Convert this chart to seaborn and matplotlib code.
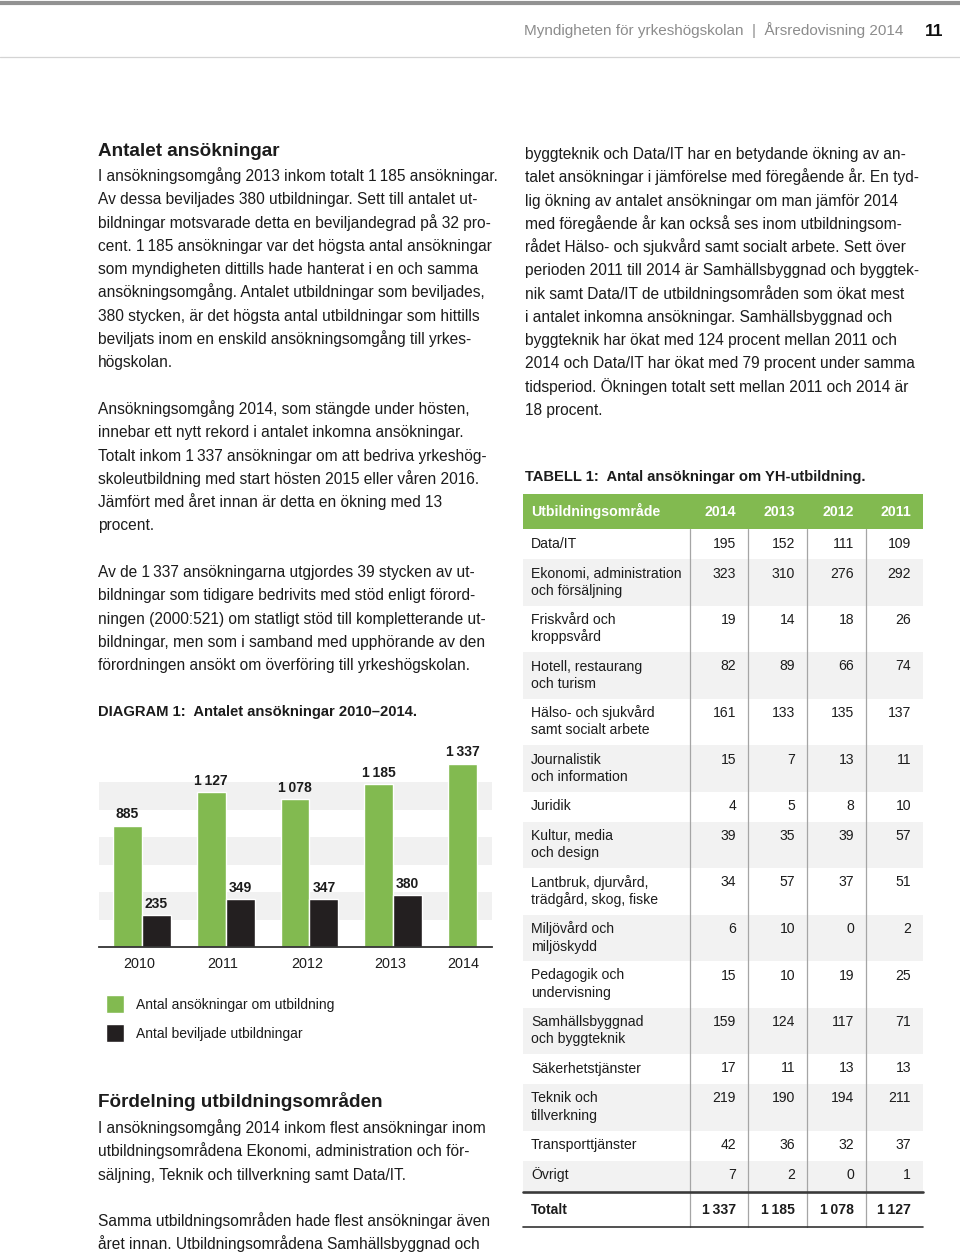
import numpy as np
import pandas as pd
import seaborn as sns
import matplotlib.pyplot as plt

sns.set_theme(style='white')
plt.rcParams['font.family'] = ['Liberation Sans', 'DejaVu Sans']

GREEN = '#82ba50'
BLACK = '#231f20'
TEXT = '#1c1c1c'
BODY = 11.2

# Diagram 1
years = ['2010', '2011', '2012', '2013', '2014']
ansokningar = [885, 1127, 1078, 1185, 1337]
beviljade = [235, 349, 347, 380, np.nan]
series = ['Antal ansökningar om utbildning', 'Antal beviljade utbildningar']

# Tabell 1
omraden = ['Data/IT', 'Ekonomi, administration\noch försäljning', 'Friskvård och\nkroppsvård',
           'Hotell, restaurang\noch turism', 'Hälso- och sjukvård\nsamt socialt arbete',
           'Journalistik\noch information', 'Juridik', 'Kultur, media\noch design',
           'Lantbruk, djurvård,\nträdgård, skog, fiske', 'Miljövård och\nmiljöskydd',
           'Pedagogik och\nundervisning', 'Samhällsbyggnad\noch byggteknik', 'Säkerhetstjänster',
           'Teknik och\ntillverkning', 'Transporttjänster', 'Övrigt']
tab_years = ['2014', '2013', '2012', '2011']
n2014 = [195, 323, 19, 82, 161, 15, 4, 39, 34, 6, 15, 159, 17, 219, 42, 7]
n2013 = [152, 310, 14, 89, 133, 7, 5, 35, 57, 10, 10, 124, 11, 190, 36, 2]
n2012 = [111, 276, 18, 66, 135, 13, 8, 39, 37, 0, 19, 117, 13, 194, 32, 0]
n2011 = [109, 292, 26, 74, 137, 11, 10, 57, 51, 2, 25, 71, 13, 211, 37, 1]

header_text = 'Myndigheten för yrkeshögskolan  |  Årsredovisning 2014'
page_no = '11'

rubrik1 = 'Antalet ansökningar'
stycke1 = ['I ansökningsomgång 2013 inkom totalt 1\u2009185 ansökningar.',
           'Av dessa beviljades 380 utbildningar. Sett till antalet ut-',
           'bildningar motsvarade detta en beviljandegrad på 32 pro-',
           'cent. 1\u2009185 ansökningar var det högsta antal ansökningar',
           'som myndigheten dittills hade hanterat i en och samma',
           'ansökningsomgång. Antalet utbildningar som beviljades,',
           '380 stycken, är det högsta antal utbildningar som hittills',
           'beviljats inom en enskild ansökningsomgång till yrkes-',
           'högskolan.']
stycke2 = ['Ansökningsomgång 2014, som stängde under hösten,',
           'innebar ett nytt rekord i antalet inkomna ansökningar.',
           'Totalt inkom 1\u2009337 ansökningar om att bedriva yrkeshög-',
           'skoleutbildning med start hösten 2015 eller våren 2016.',
           'Jämfört med året innan är detta en ökning med 13',
           'procent.']
stycke3 = ['Av de 1\u2009337 ansökningarna utgjordes 39 stycken av ut-',
           'bildningar som tidigare bedrivits med stöd enligt förord-',
           'ningen (2000:521) om statligt stöd till kompletterande ut-',
           'bildningar, men som i samband med upphörande av den',
           'förordningen ansökt om överföring till yrkeshögskolan.']
diagram_title = 'DIAGRAM 1:  Antalet ansökningar 2010–2014.'
rubrik2 = 'Fördelning utbildningsområden'
stycke4 = ['I ansökningsomgång 2014 inkom flest ansökningar inom',
           'utbildningsområdena Ekonomi, administration och för-',
           'säljning, Teknik och tillverkning samt Data/IT.']
stycke5 = ['Samma utbildningsområden hade flest ansökningar även',
           'året innan. Utbildningsområdena Samhällsbyggnad och']
stycke6 = ['byggteknik och Data/IT har en betydande ökning av an-',
           'talet ansökningar i jämförelse med föregående år. En tyd-',
           'lig ökning av antalet ansökningar om man jämför 2014',
           'med föregående år kan också ses inom utbildningsom-',
           'rådet Hälso- och sjukvård samt socialt arbete. Sett över',
           'perioden 2011 till 2014 är Samhällsbyggnad och byggtek-',
           'nik samt Data/IT de utbildningsområden som ökat mest',
           'i antalet inkomna ansökningar. Samhällsbyggnad och',
           'byggteknik har ökat med 124 procent mellan 2011 och',
           '2014 och Data/IT har ökat med 79 procent under samma',
           'tidsperiod. Ökningen totalt sett mellan 2011 och 2014 är',
           '18 procent.']
tabell_title = 'TABELL 1:  Antal ansökningar om YH-utbildning.'


def fmt(v):
    return f'{v:,.0f}'.replace(',', '\u2009')


fig = plt.figure(figsize=(9.6, 12.54), dpi=100)
W, H = 960, 1254

# full page axes in pixel coordinates
page = fig.add_axes([0, 0, 1, 1], zorder=0)
page.set_xlim(0, W)
page.set_ylim(H, 0)
page.axis('off')


def write(lines, x, y0, step=23.27, size=BODY, weight='normal', color=TEXT):
    for i, line in enumerate(lines):
        page.text(x, y0 + i * step + 5, line, ha='left', va='baseline',
                  fontsize=size, fontweight=weight, color=color)


# page header
page.plot([0, W], [2.5, 2.5], color='#929292', lw=3.0, solid_capstyle='butt')
page.plot([0, W], [57, 57], color='#d4d4d4', lw=0.9)
page.text(903, 35, header_text, ha='right', va='baseline', fontsize=11, color='#8c8c8c')
page.text(943, 36, page_no, ha='right', va='baseline', fontsize=12.5, fontweight='bold', color='#111111')

# left column
write([rubrik1], 98, 151, size=13.6, weight='bold')
write(stycke1, 98, 176)
write(stycke2, 98, 409)
write(stycke3, 98, 572)
write([diagram_title], 98, 711, size=10.6, weight='bold')
write([rubrik2], 98, 1102, size=13.6, weight='bold')
write(stycke4, 98, 1128)
write(stycke5, 98, 1221)

# right column
write(stycke6, 525, 154)
write([tabell_title], 525, 476, size=10.6, weight='bold')

# diagram
df = pd.DataFrame({'year': years * 2,
                   'serie': [series[0]] * 5 + [series[1]] * 5,
                   'antal': ansokningar + beviljade}).dropna()

base, top, ymax = 947, 748, 1450
ax = fig.add_axes([99 / W, (H - base) / H, (492 - 99) / W, (base - top) / H], zorder=2)
ax.set_facecolor('none')
sns.barplot(data=df, x='year', y='antal', hue='serie', hue_order=series,
            palette=[GREEN, BLACK], width=0.69, errorbar=None, saturation=1, ax=ax)
# light background bands every other 200
for lo in [200, 600, 1000]:
    ax.axhspan(lo, lo + 200, color='#f1f1f1', zorder=0, lw=0)
for c in ax.containers:
    ax.bar_label(c, labels=[fmt(v) for v in c.datavalues], padding=3,
                 fontsize=10, fontweight='bold', color=TEXT)
ax.set_ylim(0, ymax)
ax.set_xlim(-0.512, 4.18)
ax.set_xlabel('')
ax.set_ylabel('')
ax.set_yticks([])
ax.set_xticks([-0.03, 0.97, 1.98, 2.97, 3.84], years)
ax.tick_params(axis='x', length=0, pad=7, labelsize=10.4, labelcolor=TEXT)
for s in ['left', 'right', 'top']:
    ax.spines[s].set_visible(False)
ax.spines['bottom'].set_color('#333333')
ax.spines['bottom'].set_linewidth(1.3)
sns.move_legend(ax, loc='upper left', bbox_to_anchor=(106 / W, 1 - 995 / H),
                bbox_transform=fig.transFigure, frameon=False, title=None,
                fontsize=10, handlelength=1.3, handleheight=1.62,
                handletextpad=0.86, labelspacing=0.8, borderpad=0, borderaxespad=0)
for t in ax.get_legend().get_texts():
    t.set_color(TEXT)

# table
tl, tr = 523, 923
col_right = [748, 807, 866, 923]
values = [n2014, n2013, n2012, n2011]
head_top, head_bot = 494, 529

page.add_patch(plt.Rectangle((tl, head_top), tr - tl, head_bot - head_top, color=GREEN, lw=0))
page.text(531, 516, 'Utbildningsområde', ha='left', va='baseline', fontsize=10.2,
          fontweight='bold', color='white')
for j, yr in enumerate(tab_years):
    page.text(col_right[j] - 12, 516, yr, ha='right', va='baseline', fontsize=10.2,
              fontweight='bold', color='white')

y = head_bot
for i, label in enumerate(omraden):
    lines = label.split('\n')
    h = 30 if len(lines) == 1 else 46.5
    if i % 2 == 1:
        page.add_patch(plt.Rectangle((tl, y), tr - tl, h, color='#f2f2f2', lw=0, zorder=0))
    for k, line in enumerate(lines):
        page.text(531, y + 18.5 + k * 17.5, line, ha='left', va='baseline',
                  fontsize=10.1, color=TEXT)
    for j in range(4):
        page.text(col_right[j] - 12, y + 18.5, str(values[j][i]), ha='right', va='baseline',
                  fontsize=10.1, color=TEXT)
    y += h

sum_line = y + 1.5
page.plot([tl, tr], [sum_line, sum_line], color='#3a3a3a', lw=1.9, zorder=3)
page.text(531, sum_line + 22, 'Totalt', ha='left', va='baseline', fontsize=10.1,
          fontweight='bold', color=TEXT)
for j in range(4):
    page.text(col_right[j] - 12, sum_line + 22, fmt(sum(values[j])), ha='right', va='baseline',
              fontsize=10.1, fontweight='bold', color=TEXT)
bottom_line = sum_line + 35
page.plot([tl, tr], [bottom_line, bottom_line], color='#333333', lw=1.2, zorder=3)
for x in col_right[:3] + [690]:
    page.plot([x, x], [head_bot, bottom_line], color='#a5a5a5', lw=0.9, zorder=2)

fig.savefig('out.png', dpi=100)
